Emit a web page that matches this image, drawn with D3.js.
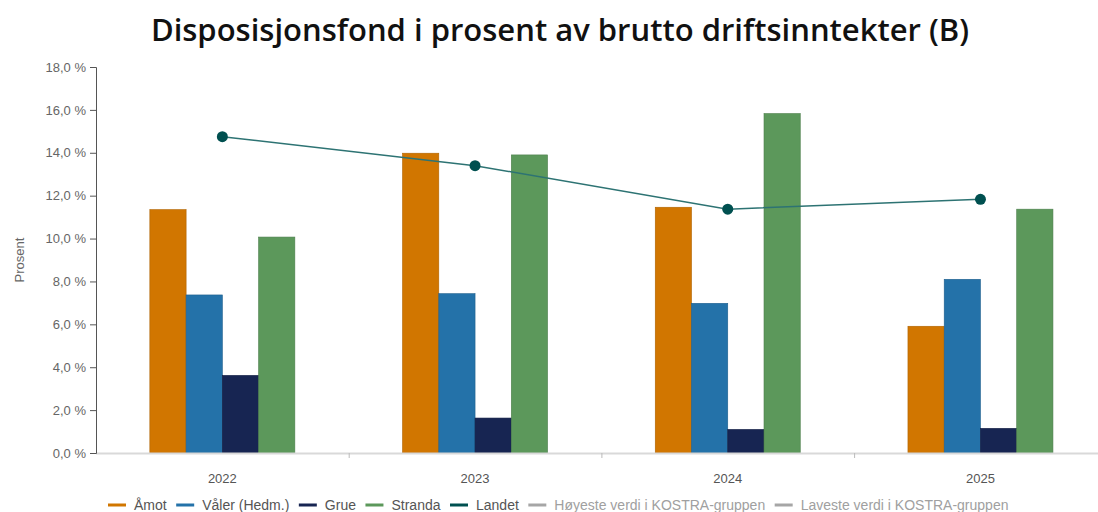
<!DOCTYPE html>
<html>
<head>
<meta charset="utf-8">
<script src="https://cdn.jsdelivr.net/npm/d3@7"></script>
<style>
  body { margin: 0; background: #fff; }
  text { font-family: "Liberation Sans", Arial, sans-serif; }
</style>
</head>
<body>
<svg id="chart" width="1098" height="512"></svg>
<script>
// Data
var years = ['2022', '2023', '2024', '2025'];
var barSeries = ['Åmot', 'Våler (Hedm.)', 'Grue', 'Stranda'];
var amot = [11.35, 13.98, 11.46, 5.91];
var valer = [7.37, 7.43, 6.98, 8.1];
var grue = [3.62, 1.63, 1.1, 1.15];
var stranda = [10.07, 13.9, 15.83, 11.37];
var landet = [14.75, 13.4, 11.37, 11.83];
var yTicks = [0, 2, 4, 6, 8, 10, 12, 14, 16, 18];
var legendNames = ['Åmot', 'Våler (Hedm.)', 'Grue', 'Stranda', 'Landet',
                   'Høyeste verdi i KOSTRA-gruppen', 'Laveste verdi i KOSTRA-gruppen'];

var colors = ['#d17600', '#2472a9', '#172552', '#5c985b', '#005050', '#a6a6a6', '#a6a6a6'];
var barData = [amot, valer, grue, stranda];

var svg = d3.select('#chart');
var plotLeft = 96, plotTop = 67, plotBottom = 453;

var x = d3.scaleBand()
    .domain(years)
    .range([plotLeft, plotLeft + 4 * 252.7]);

var xInner = d3.scaleBand()
    .domain(barSeries)
    .range([0, 145]);

var y = d3.scaleLinear()
    .domain([0, 18])
    .range([plotBottom, plotTop]);

// Title
svg.append('text')
   .attr('x', 560)
   .attr('y', 41)
   .attr('text-anchor', 'middle')
   .style('font-family', '"Open Sans", "Noto Sans", sans-serif')
   .style('font-weight', 600)
   .style('font-size', '31px')
   .attr('fill', '#111')
   .text('Disposisjonsfond i prosent av brutto driftsinntekter (B)');

// Bars
barData.forEach(function(series, i) {
  svg.append('g').selectAll('rect')
     .data(series)
     .enter()
     .append('rect')
     .attr('x', (d, j) => x(years[j]) + (x.bandwidth() - 145) / 2 + xInner(barSeries[i]))
     .attr('y', (d) => y(d))
     .attr('width', xInner.bandwidth())
     .attr('height', (d) => plotBottom - y(d))
     .attr('fill', colors[i])
     .attr('stroke', d3.color(colors[i]).darker(0.5))
     .attr('stroke-width', 0.6);
});

// Baseline
svg.append('line')
   .attr('x1', plotLeft).attr('x2', 1098)
   .attr('y1', plotBottom + 0.5).attr('y2', plotBottom + 0.5)
   .attr('stroke', '#d9d9d9')
   .attr('stroke-width', 2);

// Category separators
years.slice(1).forEach(function(yr) {
  svg.append('line')
     .attr('x1', x(yr) + 0.5).attr('x2', x(yr) + 0.5)
     .attr('y1', plotBottom).attr('y2', plotBottom + 5)
     .attr('stroke', '#bbb');
});

// X labels
svg.append('g').selectAll('text')
   .data(years)
   .enter()
   .append('text')
   .attr('x', (d) => x(d) + x.bandwidth() / 2)
   .attr('y', 483)
   .attr('text-anchor', 'middle')
   .style('font-size', '13px')
   .attr('fill', '#555')
   .text((d) => d);

// Y axis
var yAxis = d3.axisLeft(y)
    .tickValues(yTicks)
    .tickSize(6)
    .tickFormat((d) => d.toFixed(1).replace('.', ',') + ' %');

var gy = svg.append('g')
   .attr('transform', 'translate(' + plotLeft + ',0)')
   .call(yAxis);
gy.select('.domain').attr('stroke', '#555');
gy.selectAll('.tick line').attr('stroke', '#555');
gy.selectAll('.tick text')
  .attr('x', -10)
  .style('font-family', '"Liberation Sans", Arial, sans-serif')
  .style('font-size', '13px')
  .attr('fill', '#666');

svg.append('text')
   .attr('transform', 'translate(24,260) rotate(-90)')
   .attr('text-anchor', 'middle')
   .style('font-size', '13px')
   .attr('fill', '#666')
   .text('Prosent');

// Landet line
var line = d3.line()
    .x((d, j) => x(years[j]) + x.bandwidth() / 2)
    .y((d) => y(d));

svg.append('path')
   .datum(landet)
   .attr('d', line)
   .attr('fill', 'none')
   .attr('stroke', '#2d7373')
   .attr('stroke-width', 1.5);

svg.append('g').selectAll('circle')
   .data(landet)
   .enter()
   .append('circle')
   .attr('cx', (d, j) => x(years[j]) + x.bandwidth() / 2)
   .attr('cy', (d) => y(d))
   .attr('r', 5.5)
   .attr('fill', '#005050');

// Legend
var lg = svg.append('g');
var lx = 108;
legendNames.forEach(function(name, i) {
  var grey = i >= 5;
  lg.append('line')
    .attr('x1', lx).attr('x2', lx + 18)
    .attr('y1', 505).attr('y2', 505)
    .attr('stroke', colors[i])
    .attr('stroke-width', 3);
  var t = lg.append('text')
    .attr('x', lx + 26)
    .attr('y', 510)
    .style('font-size', '14px')
    .attr('fill', grey ? '#a0a0a0' : '#555')
    .text(name);
  lx += 26 + t.node().getComputedTextLength() + 9.5;
});
</script>
</body>
</html>
